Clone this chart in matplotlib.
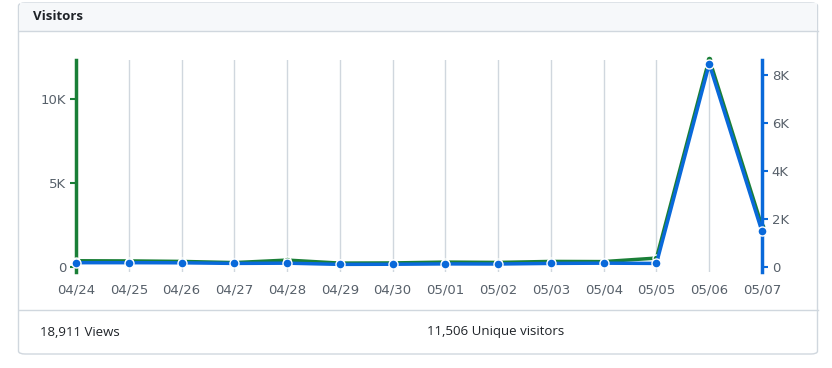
import numpy as np
import matplotlib.pyplot as plt
from matplotlib.patches import FancyBboxPatch, Rectangle
from matplotlib.ticker import FuncFormatter

# data
dates = ["04/24", "04/25", "04/26", "04/27", "04/28", "04/29", "04/30",
         "05/01", "05/02", "05/03", "05/04", "05/05", "05/06", "05/07"]
views = [370, 360, 330, 260, 410, 230, 240, 290, 270, 330, 320, 530, 12400, 2420]
unique = [180, 180, 175, 150, 160, 110, 115, 130, 125, 150, 160, 150, 8460, 1480]
total_views = "18,911 Views"
total_unique = "11,506 Unique visitors"

GREEN = "#1a7f37"
BLUE = "#0969da"
GRID = "#d0d7de"
TXT = "#57606a"

plt.rcParams['font.family'] = ['DejaVu Sans']

W, H = 832, 368
fig = plt.figure(figsize=(W / 100, H / 100), dpi=100)

# card frame (kept behind the axes)
card = FancyBboxPatch((18.5 / W, 14 / H), 799 / W, 351 / H,
                      boxstyle="round,pad=0,rounding_size=0.008",
                      transform=fig.transFigure, fc="white", ec=GRID, lw=1.0,
                      zorder=-10)
fig.patches.append(card)
fig.patches.append(Rectangle((19.5 / W, 1 - 31 / H), 797 / W, 28 / H,
                             transform=fig.transFigure, fc="#f6f8fa", ec="none",
                             zorder=-9))
fig.add_artist(plt.Line2D([18.5 / W, 817.5 / W], [1 - 31 / H, 1 - 31 / H],
                          transform=fig.transFigure, color=GRID, lw=1.0, zorder=-8))
fig.add_artist(plt.Line2D([18.5 / W, 817.5 / W], [1 - 310 / H, 1 - 310 / H],
                          transform=fig.transFigure, color=GRID, lw=1.0, zorder=-8))
fig.text(33 / W, 1 - 17 / H, "Visitors", fontsize=9.5, fontweight="bold",
         color="#1f2328", va="center", ha="left", family="Open Sans")
fig.text(40 / W, 1 - 332 / H, total_views, fontsize=9.5, color="#1f2328",
         va="center", ha="left", family="Open Sans")
fig.text(427 / W, 1 - 332 / H, total_unique, fontsize=9.5, color="#1f2328",
         va="center", ha="left", family="Open Sans")

left, right, top, bottom = 76, 762, 60, 272
ax = fig.add_axes([left / W, 1 - bottom / H, (right - left) / W, (bottom - top) / H])
ax2 = ax.twinx()

x = np.arange(len(dates))

ax.plot(x, views, color=GREEN, lw=2.5, marker="o", ms=5, mfc=GREEN,
        mec="white", mew=1.0, clip_on=False, zorder=3)
ax2.plot(x, unique, color=BLUE, lw=2.5, marker="o", ms=6.5, mfc=BLUE,
         mec="white", mew=1.0, clip_on=False, zorder=3)

ax.set_xlim(0, len(dates) - 1)
ax.set_ylim(-300, 12330)
ax2.set_ylim(-208, 8625)

ax.set_xticks(x)
ax.set_xticklabels(dates)
ax.set_yticks([0, 5000, 10000])
ax2.set_yticks([0, 2000, 4000, 6000, 8000])

kfmt = FuncFormatter(lambda v, p: "0" if v == 0 else f"{v / 1000:g}K")
ax.yaxis.set_major_formatter(kfmt)
ax2.yaxis.set_major_formatter(kfmt)

ax.grid(axis="x", color=GRID, lw=1.0)
ax.set_axisbelow(True)

for a in (ax, ax2):
    a.spines["top"].set_visible(False)
    a.spines["bottom"].set_visible(False)
    a.set_facecolor("none")

ax.spines["right"].set_visible(False)
ax.spines["left"].set_color(GREEN)
ax.spines["left"].set_linewidth(2.5)
ax2.spines["left"].set_visible(False)
ax2.spines["right"].set_color(BLUE)
ax2.spines["right"].set_linewidth(2.5)

ax.tick_params(axis="x", length=0, pad=8, labelsize=9.5, labelcolor=TXT)
ax.tick_params(axis="y", length=4, width=1.5, color=GREEN, labelsize=9.5,
               labelcolor=TXT, pad=3)
ax2.tick_params(axis="y", length=4, width=1.5, color=BLUE, labelsize=9.5,
                labelcolor=TXT, pad=3)

fig.savefig("out.png", dpi=100)
